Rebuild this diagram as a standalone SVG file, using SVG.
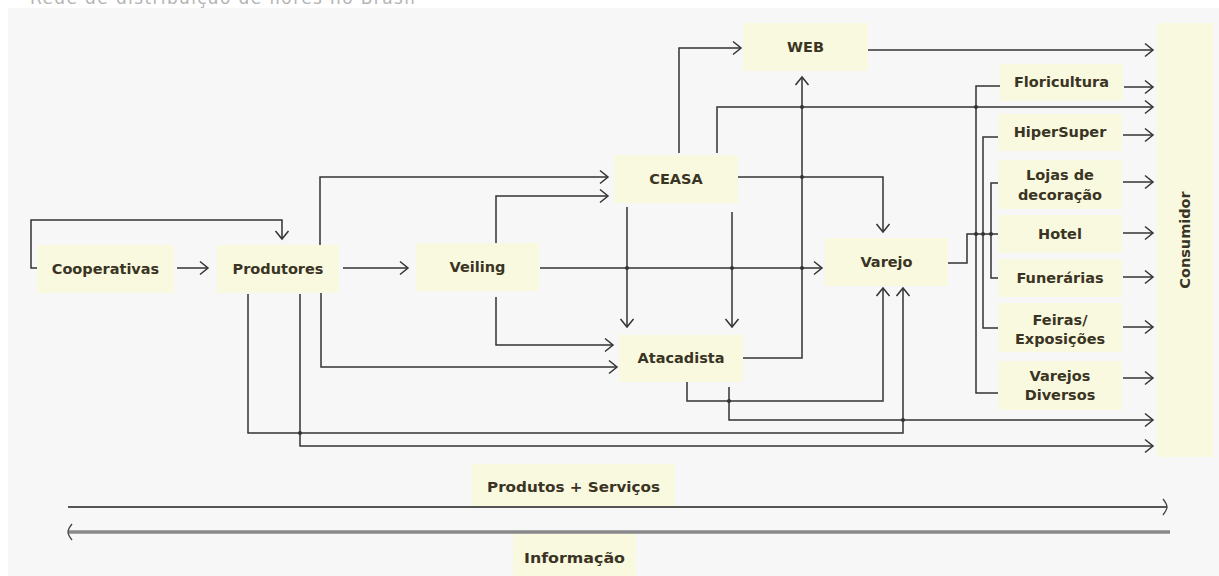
<svg xmlns="http://www.w3.org/2000/svg" width="1219" height="576" viewBox="0 0 1219 576">
<style>
.bg{fill:#f7f7f7}
.node{fill:#f9f9df}
.t{font-family:"DejaVu Sans",sans-serif;font-weight:bold;font-size:14.5px;fill:#3a3424;text-anchor:middle}
.c{fill:none;stroke:#333;stroke-width:1.5}
.dot{fill:#333}
.title{font-family:"DejaVu Sans",sans-serif;font-size:17px;fill:#b4b4b4}
</style>
<defs>
<marker id="ah" markerUnits="userSpaceOnUse" markerWidth="12" markerHeight="16" refX="10" refY="8" orient="auto">
<path d="M2,1.5 L10,8 L2,14.5" fill="none" stroke="#333" stroke-width="1.5"/>
</marker>
<marker id="ah2" markerUnits="userSpaceOnUse" markerWidth="8" markerHeight="18" refX="5" refY="9" orient="auto">
<path d="M1,1 Q5,6 5,9 Q5,12 1,17" fill="none" stroke="#444" stroke-width="1.3"/>
</marker>
</defs>
<rect width="1219" height="576" fill="#ffffff"/>
<text class="title" x="30" y="4" textLength="385">Rede de distribuição de flores no Brasil</text>
<rect class="bg" x="8" y="8" width="1211" height="568"/>

<g id="connectors">
<path class="c" d="M37,268 H31 V220 H282 V239" marker-end="url(#ah)"/>
<path class="c" d="M177,268 H208" marker-end="url(#ah)"/>
<path class="c" d="M343,268 H408" marker-end="url(#ah)"/>
<path class="c" d="M320,245 V177 H608" marker-end="url(#ah)"/>
<path class="c" d="M496,243 V196 H608" marker-end="url(#ah)"/>
<path class="c" d="M321,293 V367 H617" marker-end="url(#ah)"/>
<path class="c" d="M496,297 V345 H613" marker-end="url(#ah)"/>
<path class="c" d="M540,268 H822" marker-end="url(#ah)"/>
<path class="c" d="M627,207 V327" marker-end="url(#ah)"/>
<path class="c" d="M732,212 V327" marker-end="url(#ah)"/>
<path class="c" d="M679,153 V48 H741" marker-end="url(#ah)"/>
<path class="c" d="M717,153 V107 H1153" marker-end="url(#ah)"/>
<path class="c" d="M738,177 H883 V232" marker-end="url(#ah)"/>
<path class="c" d="M743,358 H802 V77" marker-end="url(#ah)"/>
<path class="c" d="M687,382 V401 H883 V288" marker-end="url(#ah)"/>
<path class="c" d="M729,387 V420 H1153" marker-end="url(#ah)"/>
<path class="c" d="M248,294 V433 H903 V288" marker-end="url(#ah)"/>
<path class="c" d="M300,294 V446 H1153" marker-end="url(#ah)"/>
<path class="c" d="M868,50 H1153" marker-end="url(#ah)"/>
<path class="c" d="M948,263 H967 V234 H998"/>
<path class="c" d="M1000,86 H976 V393 H998"/>
<path class="c" d="M998,137 H983 V328 H998"/>
<path class="c" d="M998,183 H991 V278 H998"/>
<path class="c" d="M1124,87 H1153" marker-end="url(#ah)"/>
<path class="c" d="M1123,135 H1153" marker-end="url(#ah)"/>
<path class="c" d="M1123,182 H1153" marker-end="url(#ah)"/>
<path class="c" d="M1123,233 H1153" marker-end="url(#ah)"/>
<path class="c" d="M1123,277 H1153" marker-end="url(#ah)"/>
<path class="c" d="M1123,327 H1153" marker-end="url(#ah)"/>
<path class="c" d="M1123,378 H1153" marker-end="url(#ah)"/>
<path d="M68,507 H1167" fill="none" stroke="#555" stroke-width="2" marker-end="url(#ah2)"/>
<path d="M1170,532 H68" fill="none" stroke="#888" stroke-width="3.5" marker-end="url(#ah2)"/>
<circle class="dot" cx="627" cy="268" r="2"/>
<circle class="dot" cx="732" cy="268" r="2"/>
<circle class="dot" cx="802" cy="268" r="2"/>
<circle class="dot" cx="802" cy="177" r="2"/>
<circle class="dot" cx="802" cy="107" r="2"/>
<circle class="dot" cx="976" cy="107" r="2"/>
<circle class="dot" cx="976" cy="234" r="2"/>
<circle class="dot" cx="983" cy="234" r="2"/>
<circle class="dot" cx="991" cy="234" r="2"/>
<circle class="dot" cx="729" cy="401" r="2"/>
<circle class="dot" cx="903" cy="420" r="2"/>
<circle class="dot" cx="300" cy="433" r="2"/>
</g>

<g id="cooperativas"><rect class="node" x="37" y="245" width="137" height="48"/><text class="t" x="105.5" y="274">Cooperativas</text></g>
<g id="produtores"><rect class="node" x="217" y="245" width="122" height="48"/><text class="t" x="278" y="274">Produtores</text></g>
<g id="veiling"><rect class="node" x="416" y="243" width="123" height="48"/><text class="t" x="477.5" y="272">Veiling</text></g>
<g id="ceasa"><rect class="node" x="614" y="155" width="124" height="48"/><text class="t" x="676" y="184">CEASA</text></g>
<g id="atacadista"><rect class="node" x="619" y="335" width="124" height="47"/><text class="t" x="681" y="363">Atacadista</text></g>
<g id="web"><rect class="node" x="743" y="23" width="125" height="48"/><text class="t" x="805.5" y="52">WEB</text></g>
<g id="varejo"><rect class="node" x="825" y="238" width="123" height="48"/><text class="t" x="886.5" y="267">Varejo</text></g>
<g id="floricultura"><rect class="node" x="1000" y="64" width="123" height="37"/><text class="t" x="1061.5" y="87">Floricultura</text></g>
<g id="hipersuper"><rect class="node" x="998" y="114" width="124" height="37"/><text class="t" x="1060" y="137">HiperSuper</text></g>
<g id="lojas"><rect class="node" x="998" y="160" width="124" height="49"/><text class="t" x="1060" y="180">Lojas de</text><text class="t" x="1060" y="200">decoração</text></g>
<g id="hotel"><rect class="node" x="998" y="215" width="124" height="38"/><text class="t" x="1060" y="239">Hotel</text></g>
<g id="funerarias"><rect class="node" x="998" y="259" width="124" height="38"/><text class="t" x="1060" y="283">Funerárias</text></g>
<g id="feiras"><rect class="node" x="998" y="303" width="124" height="49"/><text class="t" x="1060" y="325">Feiras/</text><text class="t" x="1060" y="344">Exposições</text></g>
<g id="varejos-diversos"><rect class="node" x="998" y="361" width="124" height="49"/><text class="t" x="1060" y="381">Varejos</text><text class="t" x="1060" y="400">Diversos</text></g>
<g id="consumidor"><rect class="node" x="1157" y="23" width="56" height="434"/><text class="t" transform="translate(1190,240) rotate(-90)" x="0" y="0">Consumidor</text></g>
<g id="produtos-servicos"><rect class="node" x="472" y="464" width="203" height="42"/><text class="t" x="573.5" y="492" font-size="14" textLength="173" lengthAdjust="spacingAndGlyphs">Produtos + Serviços</text></g>
<g id="informacao"><rect class="node" x="513" y="534" width="123" height="42"/><text class="t" x="574.5" y="563" textLength="101" lengthAdjust="spacingAndGlyphs">Informação</text></g>
</svg>
